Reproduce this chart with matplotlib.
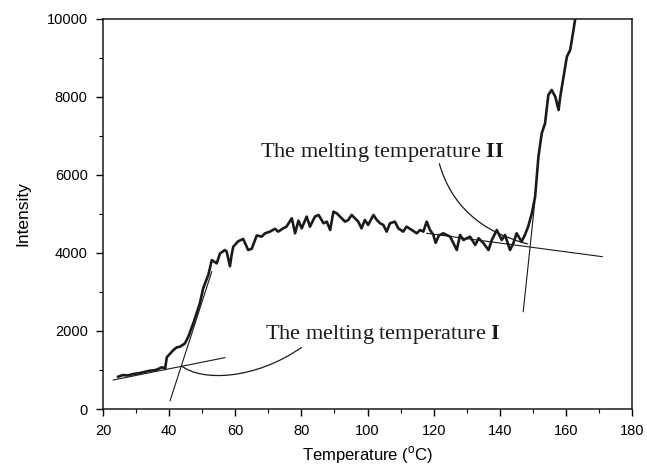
import numpy as np
import matplotlib
matplotlib.use("Agg")
import matplotlib.pyplot as plt
from matplotlib.path import Path
from matplotlib.patches import PathPatch
from matplotlib.ticker import MultipleLocator

plt.rcParams['font.family'] = ['Liberation Sans', 'DejaVu Sans']
plt.rcParams['mathtext.fontset'] = 'custom'
plt.rcParams['mathtext.rm'] = 'Liberation Serif'
plt.rcParams['mathtext.bf'] = 'Liberation Serif:bold'

# ---- data ----
temperature = [24.6, 26.0, 27.5, 29.2, 31.0, 32.5, 34.2, 36.0, 37.8, 38.8, 39.3, 40.3,
               41.3, 42.3, 43.3, 44.8, 45.8, 47.3, 48.3, 49.3, 50.3, 51.9, 52.9, 53.6,
               54.4, 55.4, 56.9, 57.4, 58.4, 58.9, 59.4, 60.9, 62.4, 63.9, 65.0, 66.5,
               68.0, 69.0, 70.5, 72.0, 73.0, 74.5, 75.5, 77.1, 78.1, 79.1, 80.1, 81.6,
               82.6, 84.1, 85.2, 86.7, 87.7, 88.7, 89.7, 90.7, 92.2, 93.2, 94.2, 95.2,
               96.2, 97.2, 98.2, 99.2, 100.2, 101.8, 102.8, 103.8, 104.8, 105.8, 106.8,
               108.3, 109.3, 110.8, 111.8, 113.4, 114.9, 115.9, 116.9, 117.9, 118.9,
               119.9, 120.6, 121.6, 122.9, 125.0, 127.0, 128.0, 129.0, 131.0, 132.6,
               133.6, 135.1, 136.6, 137.6, 139.1, 140.6, 141.6, 143.1, 144.1, 145.1,
               146.6, 147.6, 148.6, 149.7, 150.7, 151.7, 152.7, 153.7, 154.7, 155.7,
               156.8, 157.8, 158.3, 159.3, 160.3, 161.3, 162.3, 163.0]
intensity = [828, 870, 860, 897, 920, 950, 982, 1000, 1069, 1044, 1325, 1420,
             1513, 1580, 1598, 1684, 1854, 2197, 2450, 2710, 3094, 3450, 3820, 3780,
             3735, 3990, 4077, 4034, 3660, 3949, 4162, 4300, 4360, 4077, 4110, 4450,
             4420, 4505, 4548, 4620, 4548, 4633, 4676, 4890, 4505, 4830, 4633, 4933,
             4676, 4933, 4976, 4762, 4804, 4590, 5060, 5017, 4890, 4804, 4847, 4976,
             4890, 4804, 4633, 4847, 4719, 4976, 4847, 4762, 4719, 4548, 4762,
             4804, 4633, 4548, 4676, 4590, 4505, 4590, 4548, 4804, 4590,
             4470, 4260, 4450, 4505, 4419, 4077, 4462, 4334, 4419, 4205,
             4377, 4248, 4077, 4334, 4590, 4334, 4462, 4077, 4248, 4505,
             4291, 4462, 4676, 5017, 5444, 6470, 7068, 7324, 8051, 8179,
             8008, 7667, 8008, 8521, 9034, 9205, 9718, 10100]

# tangent construction lines (start/end points)
base_I_x = [23.1, 56.9]
base_I_y = [744, 1317]
steep_I_x = [40.3, 52.9]
steep_I_y = [214, 3521]
base_II_x = [117.9, 171.0]
base_II_y = [4505, 3906]
steep_II_x = [147.1, 150.6]
steep_II_y = [2496, 5300]

# pointer arcs (bezier control points)
arc_I = [(80.1, 1582), (66.0, 750), (50.0, 700), (43.8, 1103)]
arc_II = [(121.7, 6300), (127.0, 4700), (148.5, 4230)]

label_I = "The melting temperature "
label_II = "The melting temperature "
x_ticks = [20, 40, 60, 80, 100, 120, 140, 160, 180]
y_ticks = [0, 2000, 4000, 6000, 8000, 10000]

fig = plt.figure(figsize=(6.47, 4.69), dpi=100)
ax = fig.add_axes([103/647, 1-409/469, (632-103)/647, (409-19)/469])

ax.plot(temperature, intensity, color='#1a1a1a', lw=1.9, solid_joinstyle='round')
for xs, ys in [(base_I_x, base_I_y), (steep_I_x, steep_I_y),
               (base_II_x, base_II_y), (steep_II_x, steep_II_y)]:
    ax.plot(xs, ys, color='#1a1a1a', lw=0.8)

p1 = Path(arc_I, [Path.MOVETO, Path.CURVE4, Path.CURVE4, Path.CURVE4])
ax.add_patch(PathPatch(p1, fc='none', ec='#1a1a1a', lw=0.9))
p2 = Path(arc_II, [Path.MOVETO, Path.CURVE3, Path.CURVE3])
ax.add_patch(PathPatch(p2, fc='none', ec='#1a1a1a', lw=0.9))

ax.text(69.0, 1795, label_I + r"$\mathbf{I}$", family='Liberation Serif',
        fontsize=16, ha='left', va='baseline', color='#1a1a1a')
ax.text(67.5, 6462, label_II + r"$\mathbf{II}$", family='Liberation Serif',
        fontsize=16, ha='left', va='baseline', color='#1a1a1a')

ax.set_xlim(20, 180)
ax.set_ylim(0, 10000)
ax.set_xticks(x_ticks)
ax.set_yticks(y_ticks)
ax.xaxis.set_minor_locator(MultipleLocator(10))
ax.yaxis.set_minor_locator(MultipleLocator(1000))
ax.tick_params(which='major', direction='out', length=5, width=1, labelsize=10.5,
               top=False, right=False, pad=6)
ax.tick_params(which='minor', direction='out', length=3, width=0.8,
               top=False, right=False)
for s in ax.spines.values():
    s.set_linewidth(1.1)
    s.set_color('#1a1a1a')

ax.set_xlabel(r"Temperature ($^\mathregular{o}$C)", fontsize=12, labelpad=4)
ax.set_ylabel("Intensity", fontsize=12.5, labelpad=12)

fig.savefig("out.png", dpi=100)
